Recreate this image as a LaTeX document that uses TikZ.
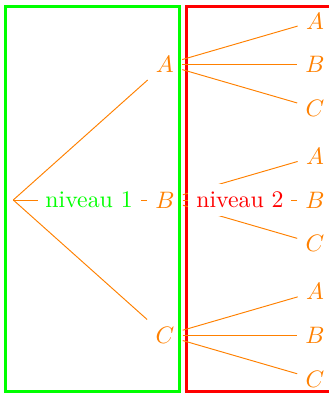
\documentclass[tikz,border=0pt]{standalone}
\usetikzlibrary{calc}
\tikzset{
  etat/.style={text=orange},
  branche/.style={draw=orange},
  cadre/.style={line width=1.4pt},
  niveau/.style={fill=white}
}
\begin{document}
\begin{tikzpicture}
\useasboundingbox (-0.196,-2.851) rectangle (4.663,2.954);
% les deux cadres
\draw[cadre, green] (-0.112,-2.833) rectangle (2.452,2.861);
\draw[cadre, red] (2.561,-2.833) rectangle (5.0,2.861);
% arbre
\coordinate (r) at (0,0);
\foreach \n/\t/\y in {a/A/2,b/B/0,c/C/-2} {
  \node[etat] (\n) at (2.24,\y) {$\t$};
  \draw[branche] (r) -- (\n);
  \foreach \m/\s/\d in {a/A/0.643,b/B/0,c/C/-0.643} {
    \node[etat] (\n\m) at (4.456,\y+\d) {$\s$};
    \draw[branche] (\n) -- (\n\m);
  }
}
% etiquettes des niveaux
\node[niveau, text=green] (n1) at ($(r)!0.5!(b)$) {niveau 1};
\node[niveau, text=red] (n2) at ($(b)!0.5!(bb)$) {niveau 2};
\end{tikzpicture}
\end{document}
